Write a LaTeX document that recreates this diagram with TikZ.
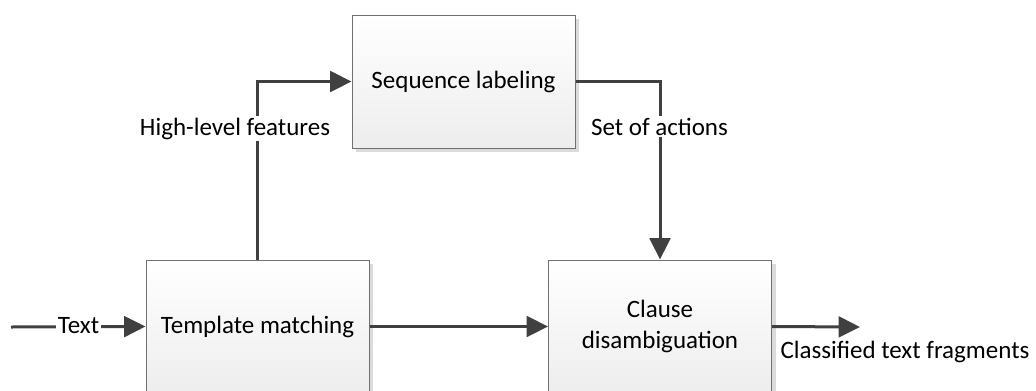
\documentclass[tikz,border=0pt]{standalone}
\usepackage{fontspec}
\setmainfont{Carlito}
\usetikzlibrary{arrows.meta,shadows}
\definecolor{linegray}{HTML}{404040}
\definecolor{boxline}{HTML}{707070}

\begin{document}
\begin{tikzpicture}[x=0.75pt,y=-0.75pt,
  block/.style={draw=boxline, line width=0.75pt, rectangle, minimum width=167.25pt, minimum height=99.75pt,
    inner sep=0pt, top color=white, bottom color=gray!14,
    general shadow={fill=gray!28, shadow xshift=3pt, shadow yshift=-3pt},
    font=\fontsize{18.75}{23}\selectfont},
  flow/.style={line width=2.25pt, draw=linegray, -{Triangle[length=16pt,width=15.5pt]}},
  lbl/.style={fill=white, inner sep=1.5pt, anchor=base, font=\fontsize{18.75}{23}\selectfont}]

\useasboundingbox (0,0) rectangle (1036,390);
\clip (0,0) rectangle (1036,390);

% Blocks
\node (seq) at (463.5,81.5) [block] {Sequence labeling};
\node (tmpl) at (257.5,326.5) [block] {Template matching};
\node (clause) at (660,326.5) [block, align=center] {Clause\\disambiguation};

% Free ends
\coordinate (src) at (11,327);
\coordinate (sink) at (860,327);

% Arrows
\draw[flow] (src) -- (tmpl.west);
\draw[flow] (tmpl.east) -- (clause.west);
\draw[flow] (tmpl.north) |- (seq.west);
\draw[flow] (seq.east) -| (clause.north);
\draw[flow] (clause.east) -- (sink);

% Labels
\node (txt) at (78.5,333) [lbl] {Text};
\node (hlf) at (235,135) [lbl] {High-level features};
\node (soa) at (659.5,135) [lbl] {Set of actions};
\node (cls) at (905,358) [lbl, fill=none] {Classified text fragments};

\end{tikzpicture}
\end{document}
